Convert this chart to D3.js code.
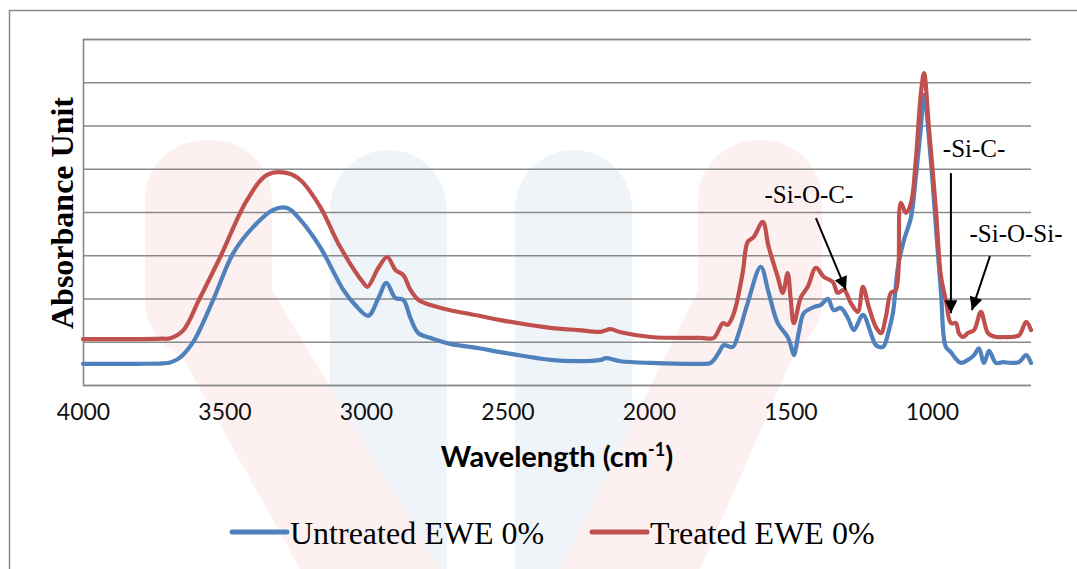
<!DOCTYPE html>
<html><head><meta charset="utf-8">
<script src="https://cdn.jsdelivr.net/npm/d3@7"></script>
<style>
html,body{margin:0;padding:0;background:#fff;}
svg{display:block;}
</style></head>
<body>
<svg id="chart" width="1077" height="569"></svg>
<script>
// ---- data (wavenumber cm-1, absorbance in arbitrary units) ----
const xTicks = [4000, 3500, 3000, 2500, 2000, 1500, 1000];
const yGrid = [0, 1, 2, 3, 4, 5, 6, 7, 8];

const untreatedWn = [4000,3800,3720,3692,3660,3611,3540,3469,3399,3328,3278,3232,3162,3080,3038,2992,2956,2928,2896,2868,2843,2815,2772,2702,2600,2525,2348,2250,2171,2153,2100,1994,1817,1782,1754,1736,1704,1683,1651,1605,1577,1545,1510,1499,1488,1471,1453,1418,1393,1368,1347,1322,1297,1276,1244,1216,1198,1173,1152,1138,1120,1099,1074,1057,1039,1028,1004,986,968,951,933,915,898,873,851,834,816,798,774,749,721,692,667,650];
const untreatedAbs = [0.49,0.49,0.50,0.52,0.62,0.99,1.97,3.05,3.65,4.05,4.09,3.82,3.19,2.20,1.85,1.60,2.01,2.36,2.01,1.97,1.55,1.20,1.09,0.95,0.85,0.76,0.58,0.55,0.58,0.62,0.55,0.51,0.49,0.51,0.74,0.92,0.88,1.20,1.90,2.73,2.13,1.43,1.11,0.92,0.69,1.20,1.66,1.80,1.85,1.99,1.73,1.78,1.55,1.27,1.62,1.20,0.92,0.88,1.27,1.66,2.73,3.35,3.88,4.81,5.97,6.71,5.20,3.65,2.13,0.88,0.76,0.60,0.51,0.58,0.69,0.85,0.51,0.79,0.51,0.53,0.51,0.53,0.69,0.51];

const treatedWn = [4000,3800,3720,3692,3645,3590,3515,3420,3349,3278,3232,3162,3091,3009,2995,2956,2925,2896,2868,2843,2815,2772,2702,2600,2525,2348,2250,2171,2136,2100,1994,1817,1771,1739,1722,1700,1669,1651,1630,1598,1577,1545,1527,1510,1499,1488,1463,1439,1410,1382,1350,1333,1311,1287,1262,1244,1223,1198,1180,1163,1145,1127,1110,1092,1074,1057,1039,1028,1011,986,968,951,933,915,905,890,873,851,827,802,774,749,721,692,667,650];
const treatedAbs = [1.06,1.06,1.07,1.08,1.27,1.97,2.96,4.28,4.86,4.90,4.74,4.12,3.19,2.36,2.27,2.71,2.96,2.66,2.54,2.20,1.97,1.85,1.73,1.60,1.50,1.32,1.27,1.23,1.29,1.22,1.11,1.09,1.09,1.43,1.39,1.66,2.59,3.31,3.42,3.77,3.19,2.50,2.13,2.59,1.97,1.43,2.03,2.27,2.71,2.50,2.38,2.13,2.20,1.90,1.69,2.27,1.80,1.34,1.20,1.57,2.13,2.20,4.21,3.98,4.21,5.20,6.75,7.21,5.97,4.05,2.50,1.97,1.43,1.43,1.20,1.11,1.20,1.27,1.69,1.20,1.11,1.11,1.11,1.15,1.46,1.27];

const seriesNames = ["Untreated EWE 0%", "Treated EWE 0%"];
const seriesColors = ["#4F81BD", "#C0504D"];

// annotations: label, label position (wn, abs), arrow start, arrow tip
const annLabels = ["-Si-O-C-", "-Si-C-", "-Si-O-Si-"];
const annLabelPos = [[1435, 4.21], [851, 5.27], [703, 3.31]];
const annArrowFrom = [[1410, 3.86], [933, 4.90], [795, 2.98]];
const annArrowTo = [[1304, 2.20], [933, 1.66], [859, 1.73]];

// ---- drawing ----
const svg = d3.select("#chart");
const W = 1077, H = 569;
const plot = {left: 83, top: 39, right: 1031, bottom: 385};

const x = d3.scaleLinear().domain([4000, 650]).range([plot.left, plot.right]);
const y = d3.scaleLinear().domain([0, 8]).range([plot.bottom, plot.top]);

// watermark-like faint background shapes
const wm = svg.append("g").attr("class", "watermark");
const wmPills = [
  {x0: 145, x1: 272, top: 140, bottom: 360, c: "#fdf0f0"},
  {x0: 330, x1: 447, top: 150, bottom: 640, c: "#eff4f9"},
  {x0: 515, x1: 632, top: 150, bottom: 640, c: "#eff4f9"},
  {x0: 698, x1: 822, top: 140, bottom: 360, c: "#fdf0f0"}
];
wm.selectAll("rect").data(wmPills).join("rect")
  .attr("x", d => d.x0).attr("y", d => d.top)
  .attr("width", d => d.x1 - d.x0).attr("height", d => d.bottom - d.top)
  .attr("rx", 60).attr("fill", d => d.c);
wm.append("path").attr("d", "M145,290 L272,290 L440,569 L300,569 Z").attr("fill", "#fdf0f0");
wm.append("path").attr("d", "M822,290 L698,290 L560,569 L700,569 Z").attr("fill", "#fdf0f0");

// outer frame
svg.append("rect").attr("x", 9.5).attr("y", 10.5).attr("width", W).attr("height", H)
  .attr("fill", "none").attr("stroke", "#8a8a8a").attr("stroke-width", 1.5);

// grid (y axis)
const yAxis = d3.axisLeft(y).tickValues(yGrid).tickSize(-(plot.right - plot.left)).tickFormat("");
const gy = svg.append("g").attr("transform", `translate(${plot.left},0)`).call(yAxis);
gy.selectAll(".tick line").attr("stroke", "#8a8a8a").attr("stroke-width", 1.6);
gy.select(".domain").attr("stroke", "#8a8a8a").attr("stroke-width", 1.6);

// x axis labels
const xAxis = d3.axisBottom(x).tickValues(xTicks).tickSize(0).tickPadding(19).tickFormat(d3.format("d"));
const gx = svg.append("g").attr("transform", `translate(0,${plot.bottom})`).call(xAxis);
gx.select(".domain").remove();
gx.selectAll("text").attr("font-family", "Lato, 'Open Sans', sans-serif").attr("font-size", 23).attr("fill", "#111");

// lines
const series = [
  untreatedWn.map((w, i) => [w, untreatedAbs[i]]),
  treatedWn.map((w, i) => [w, treatedAbs[i]])
];
const line = d3.line().x(d => x(d[0])).y(d => y(d[1])).curve(d3.curveCatmullRom.alpha(0.5));
svg.append("g").selectAll("path").data(series).join("path")
  .attr("d", line).attr("fill", "none")
  .attr("stroke", (d, i) => seriesColors[i]).attr("stroke-width", 4.2)
  .attr("stroke-linejoin", "round").attr("stroke-linecap", "round");

// annotations
svg.append("defs").append("marker").attr("id", "ah")
  .attr("viewBox", "0 0 10 10").attr("refX", 10).attr("refY", 5)
  .attr("markerWidth", 15).attr("markerHeight", 13).attr("markerUnits", "userSpaceOnUse")
  .attr("orient", "auto")
  .append("path").attr("d", "M0,0 L10,5 L0,10 Z").attr("fill", "#000");
const ann = svg.append("g");
ann.selectAll("line").data(annLabels).join("line")
  .attr("x1", (d, i) => x(annArrowFrom[i][0])).attr("y1", (d, i) => y(annArrowFrom[i][1]))
  .attr("x2", (d, i) => x(annArrowTo[i][0])).attr("y2", (d, i) => y(annArrowTo[i][1]))
  .attr("stroke", "#000").attr("stroke-width", 2).attr("marker-end", "url(#ah)");
ann.selectAll("text").data(annLabels).join("text")
  .attr("x", (d, i) => x(annLabelPos[i][0])).attr("y", (d, i) => y(annLabelPos[i][1]))
  .attr("text-anchor", "middle").attr("font-family", "'Liberation Serif', 'Times New Roman', serif")
  .attr("font-size", 25).attr("fill", "#000").text(d => d);

// axis titles
svg.append("text").attr("transform", `translate(73,${(plot.top + plot.bottom) / 2 + 1}) rotate(-90)`)
  .attr("text-anchor", "middle").attr("font-family", "'Liberation Serif', 'Times New Roman', serif")
  .attr("font-weight", "bold").attr("font-size", 32).attr("fill", "#000").text("Absorbance Unit");

const xt = svg.append("text").attr("x", (plot.left + plot.right) / 2).attr("y", 467)
  .attr("text-anchor", "middle").attr("font-family", "Lato, 'Open Sans', sans-serif")
  .attr("font-weight", "bold").attr("font-size", 29).attr("fill", "#000");
xt.append("tspan").text("Wavelength (cm");
xt.append("tspan").attr("dy", -11).attr("font-size", 18).text("-1");
xt.append("tspan").attr("dy", 11).text(")");

// legend
const legendX = [232, 592];
const lg = svg.append("g").selectAll("g").data(seriesNames).join("g")
  .attr("transform", (d, i) => `translate(${legendX[i]},532)`);
lg.append("line").attr("x1", 0).attr("x2", 55).attr("y1", 0).attr("y2", 0)
  .attr("stroke", (d, i) => seriesColors[i]).attr("stroke-width", 5).attr("stroke-linecap", "round");
lg.append("text").attr("x", 58).attr("y", 12)
  .attr("font-family", "'Liberation Serif', 'Times New Roman', serif").attr("font-size", 32)
  .attr("fill", "#000").text(d => d);
</script>
</body></html>
